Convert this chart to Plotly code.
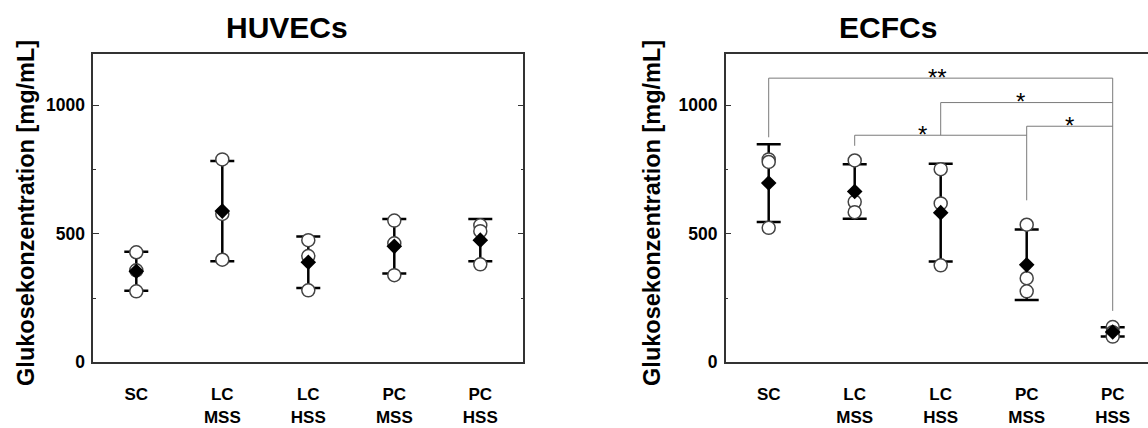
import plotly.graph_objects as go

W, H = 1148, 428

categories = ["SC", "LC<br>MSS", "LC<br>HSS", "PC<br>MSS", "PC<br>HSS"]

# HUVECs: individual replicates (3 per group), mean, error (SD)
huvec_points = [
    [428, 358, 276],
    [789, 577, 399],
    [475, 413, 280],
    [551, 463, 339],
    [533, 510, 381],
]
huvec_mean = [354, 588, 389, 451, 475]
huvec_sd = [76, 195, 100, 106, 82]

# ECFCs
ecfc_points = [
    [789, 779, 523],
    [785, 624, 584],
    [751, 618, 377],
    [535, 327, 276],
    [137, 117, 100],
]
ecfc_mean = [697, 664, 582, 379, 118]
ecfc_sd = [151, 106, 190, 137, 18]

# significance brackets (ECFCs): (left cat, right cat, bar level, left drop, right drop)
brackets = [
    (0, 4, 1105, 875, 200),
    (2, 4, 1010, 883, None),
    (3, 4, 918, 630, None),
    (1, 3, 883, 842, None),
]
star_labels = ["**", "*", "*", "*"]

FONT = "Arial, Liberation Sans, sans-serif"
AXC = "#333333"

fig = go.Figure()


def add_panel(points, mean, sd, xa, ya):
    # error bars
    fig.add_trace(go.Scatter(
        x=categories, y=mean, mode="markers", xaxis=xa, yaxis=ya,
        marker=dict(color="rgba(0,0,0,0)", size=1),
        error_y=dict(type="data", array=sd, arrayminus=sd, visible=True,
                     color="black", thickness=2.5, width=12),
        showlegend=False, hoverinfo="skip"))
    # individual points
    xs, ys = [], []
    for c, pts in zip(categories, points):
        for v in pts:
            xs.append(c)
            ys.append(v)
    fig.add_trace(go.Scatter(
        x=xs, y=ys, mode="markers", xaxis=xa, yaxis=ya,
        marker=dict(symbol="circle", size=13, color="white",
                    line=dict(color="#444444", width=1.5)),
        showlegend=False))
    # means
    fig.add_trace(go.Scatter(
        x=categories, y=mean, mode="markers", xaxis=xa, yaxis=ya,
        marker=dict(symbol="diamond", size=12, color="black",
                    line=dict(width=0)),
        showlegend=False))


add_panel(huvec_points, huvec_mean, huvec_sd, "x", "y")
add_panel(ecfc_points, ecfc_mean, ecfc_sd, "x2", "y2")

ydom = [1 - 371 / H, 1 - 55 / H]
unit = 86.0
right_left = 725.7

yaxis_common = dict(
    range=[0, 1200], tickvals=[0, 500, 1000], showgrid=False, zeroline=False,
    showline=True, linecolor=AXC, linewidth=1.5, ticks="inside", ticklen=6,
    tickwidth=1.2, tickcolor=AXC, ticklabelstandoff=3,
    minor=dict(tickvals=[250, 750], ticks="inside", ticklen=3, tickcolor=AXC, tickwidth=1.2),
    tickfont=dict(family=FONT, size=17.5, color="black", weight="bold"),
    domain=ydom,
)
xaxis_common = dict(
    type="category", categoryorder="array", categoryarray=categories,
    showgrid=False, zeroline=False, showline=True, linecolor=AXC, linewidth=1.5,
    mirror=True, ticks="", ticklabelstandoff=16,
    tickfont=dict(family=FONT, size=17, color="black", weight="bold"),
)

fig.update_layout(
    width=W, height=H, margin=dict(l=0, r=0, t=0, b=0),
    paper_bgcolor="white", plot_bgcolor="white",
    xaxis=dict(xaxis_common, domain=[93.3 / W, 523.3 / W], range=[-0.5, 4.5], anchor="y"),
    yaxis=dict(yaxis_common, mirror="ticks", anchor="x"),
    xaxis2=dict(xaxis_common, domain=[right_left / W, 1.0],
                range=[-0.5, -0.5 + (W - right_left) / unit], anchor="y2"),
    yaxis2=dict(yaxis_common, mirror=False, anchor="x2"),
)

# brackets
for (a, b, lvl, dl, dr) in brackets:
    xa_, xb_ = categories[a], categories[b]
    col = "#7a7a7a"
    fig.add_shape(type="line", xref="x2", yref="y2", x0=xa_, x1=xb_, y0=lvl, y1=lvl,
                  line=dict(color=col, width=1))
    fig.add_shape(type="line", xref="x2", yref="y2", x0=xa_, x1=xa_, y0=lvl, y1=dl,
                  line=dict(color=col, width=1))
    if dr is not None:
        fig.add_shape(type="line", xref="x2", yref="y2", x0=xb_, x1=xb_, y0=lvl, y1=dr,
                      line=dict(color=col, width=1))

star_pos = [(938, 79), (1020, 104), (1069, 129), (922, 138)]
for (sx, sy), t in zip(star_pos, star_labels):
    fig.add_annotation(x=sx / W, y=1 - sy / H, xref="paper", yref="paper", text=t,
                       showarrow=False, font=dict(family=FONT, size=24, color="black"),
                       xanchor="center", yanchor="middle")

# titles
fig.add_annotation(x=286.5 / W, y=1 - 28 / H, xref="paper", yref="paper", text="HUVECs",
                   showarrow=False, font=dict(family=FONT, size=30, color="black", weight="bold"),
                   xanchor="center", yanchor="middle")
fig.add_annotation(x=888 / W, y=1 - 28 / H, xref="paper", yref="paper", text="ECFCs",
                   showarrow=False, font=dict(family=FONT, size=30, color="black", weight="bold"),
                   xanchor="center", yanchor="middle")

ylab = "Glukosekonzentration [mg/mL]"
for lx in (26, 652):
    fig.add_annotation(x=lx / W, y=1 - 218 / H, xref="paper", yref="paper", text=ylab,
                       textangle=-90, showarrow=False,
                       font=dict(family=FONT, size=23.5, color="black", weight="bold"),
                       xanchor="center", yanchor="middle")

fig.write_html("out.html")
